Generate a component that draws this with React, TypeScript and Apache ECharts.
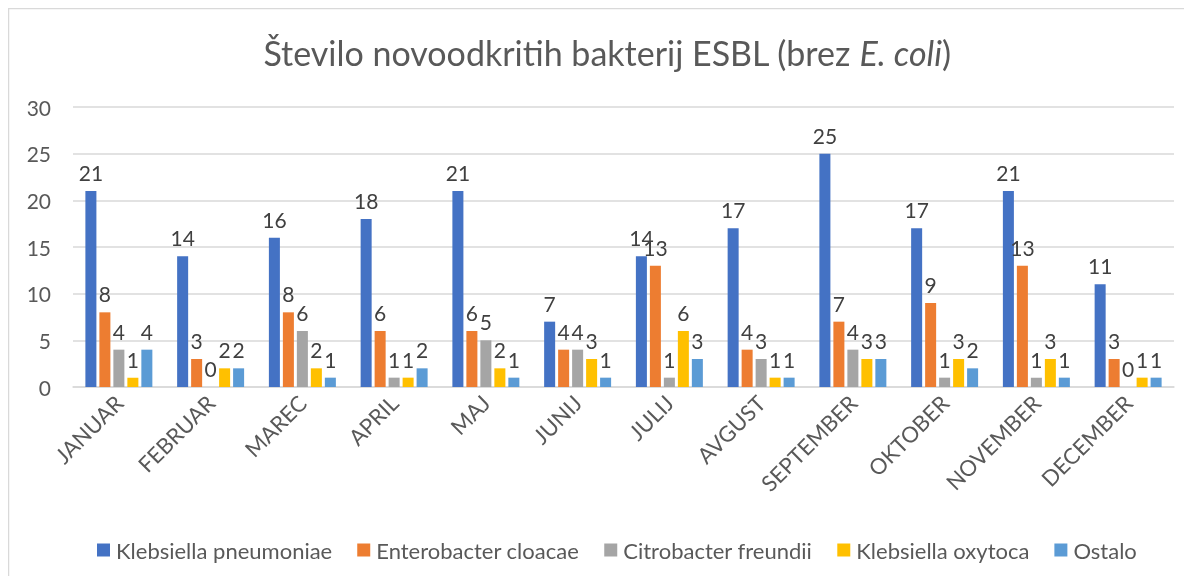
import React, { useEffect, useRef } from "react";
import * as echarts from "echarts";

const months = ["JANUAR", "FEBRUAR", "MAREC", "APRIL", "MAJ", "JUNIJ", "JULIJ", "AVGUST", "SEPTEMBER", "OKTOBER", "NOVEMBER", "DECEMBER"];
const seriesNames = ["Klebsiella pneumoniae", "Enterobacter cloacae", "Citrobacter freundii", "Klebsiella oxytoca", "Ostalo"];
const klebsiellaPneumoniae = [21, 14, 16, 18, 21, 7, 14, 17, 25, 17, 21, 11];
const enterobacterCloacae = [8, 3, 8, 6, 6, 4, 13, 4, 7, 9, 13, 3];
const citrobacterFreundii = [4, 0, 6, 1, 5, 4, 1, 3, 4, 1, 1, 0];
const klebsiellaOxytoca = [1, 2, 2, 1, 2, 3, 6, 1, 3, 3, 3, 1];
const ostalo = [4, 2, 1, 2, 1, 1, 3, 1, 3, 2, 1, 1];
const colors = ["#4472C4", "#ED7D31", "#A5A5A5", "#FFC000", "#5B9BD5"];

const FONT = "Lato, 'Open Sans', sans-serif";

export default function App() {
  const ref = useRef<HTMLDivElement>(null);
  useEffect(() => {
    if (!ref.current) return;
    const chart = echarts.init(ref.current, undefined, { renderer: "svg" });
    const values = [klebsiellaPneumoniae, enterobacterCloacae, citrobacterFreundii, klebsiellaOxytoca, ostalo];
    chart.setOption({
      animation: false,
      color: colors,
      textStyle: { fontFamily: FONT },
      title: {
        text: "{n|Število novoodkritih bakterij ESBL (brez }{i|E. coli}{n|)}",
        left: 594,
        textAlign: "center",
        top: 22,
        textStyle: {
          fontWeight: "normal",
          rich: {
            n: { fontFamily: FONT, fontSize: 34, color: "#595959", fontWeight: "normal" },
            i: { fontFamily: FONT, fontSize: 34, color: "#595959", fontStyle: "italic", fontWeight: "normal" },
          },
        },
      },
      graphic: [
        {
          type: "rect",
          shape: { x: 0.5, y: 0.5, width: 1400, height: 1000 },
          style: { fill: "none", stroke: "#D9D9D9", lineWidth: 1.5 },
          silent: true,
        },
      ],
      legend: {
        top: 526,
        left: 84,
        itemWidth: 13,
        itemHeight: 13,
        itemGap: 25,
        icon: "rect",
        textStyle: { fontFamily: FONT, fontSize: 22, color: "#595959", padding: [0, 0, 0, 1] },
        data: seriesNames,
      },
      grid: { left: 65, right: 18, top: 99, bottom: 189, containLabel: false },
      xAxis: {
        type: "category",
        data: months,
        axisLine: { lineStyle: { color: "#D9D9D9", width: 1.5 } },
        axisTick: { show: false },
        axisLabel: { rotate: 45, fontFamily: FONT, fontSize: 22, color: "#595959", margin: 12, interval: 0 },
      },
      yAxis: {
        type: "value",
        min: 0,
        max: 30,
        interval: 5,
        axisLine: { show: false },
        axisTick: { show: false },
        splitLine: { lineStyle: { color: "#D9D9D9", width: 1.5 } },
        axisLabel: { fontFamily: FONT, fontSize: 21, color: "#595959", margin: 22 },
      },
      series: seriesNames.map((name, i) => ({
        name,
        type: "bar",
        data: values[i],
        barGap: "27%",
        barCategoryGap: "27%",
        itemStyle: { color: colors[i] },
        label: {
          show: true,
          position: "top",
          distance: 8,
          fontFamily: FONT,
          fontSize: 21,
          color: "#404040",
        },
      })),
    });
    return () => chart.dispose();
  }, []);
  return (
    <div style={{ position: "relative" }}>
      <div
        style={{
          position: "fixed",
          top: -19,
          left: 8,
          fontFamily: "'Liberation Serif', serif",
          fontWeight: "bold",
          fontSize: 20,
          color: "#000",
        }}
      >
        december 2023
      </div>
      <div style={{ width: 1184, height: 568, overflow: "hidden" }}>
        <div ref={ref} style={{ width: 1184, height: 568 }} />
      </div>
    </div>
  );
}
